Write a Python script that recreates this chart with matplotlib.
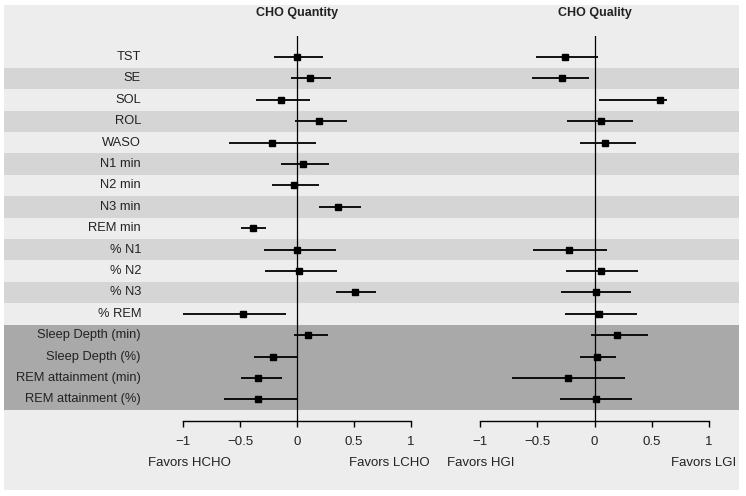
import numpy as np
import matplotlib
matplotlib.use('Agg')
import matplotlib.pyplot as plt
from matplotlib.patches import Rectangle

plt.rcParams['font.family'] = ['Liberation Sans', 'DejaVu Sans']

# ----------------------------------------------------------------------------------------
# data (effect size with 95% CI)
# ----------------------------------------------------------------------------------------
labels = ['TST', 'SE', 'SOL', 'ROL', 'WASO', 'N1 min', 'N2 min', 'N3 min', 'REM min',
          '% N1', '% N2', '% N3', '% REM', 'Sleep Depth (min)', 'Sleep Depth (%)',
          'REM attainment (min)', 'REM attainment (%)']

qty_est = [0.00, 0.11, -0.14, 0.19, -0.22, 0.05, -0.03, 0.36, -0.39,
           0.00, 0.02, 0.51, -0.47, 0.10, -0.21, -0.34, -0.34]
qty_lo = [-0.20, -0.05, -0.36, -0.02, -0.60, -0.14, -0.22, 0.19, -0.49,
          -0.29, -0.28, 0.34, -1.00, -0.03, -0.38, -0.49, -0.64]
qty_hi = [0.23, 0.30, 0.11, 0.44, 0.17, 0.28, 0.19, 0.56, -0.27,
          0.34, 0.35, 0.69, -0.10, 0.27, 0.01, -0.13, 0.00]

nan = np.nan
qual_est = [-0.26, -0.28, 0.57, 0.06, 0.09, nan, nan, nan, nan,
            -0.22, 0.06, 0.01, 0.04, 0.20, 0.02, -0.23, 0.01]
qual_lo = [-0.51, -0.55, 0.04, -0.24, -0.13, nan, nan, nan, nan,
           -0.54, -0.25, -0.29, -0.26, -0.03, -0.13, -0.72, -0.30]
qual_hi = [0.03, -0.05, 0.63, 0.34, 0.36, nan, nan, nan, nan,
           0.11, 0.38, 0.32, 0.37, 0.47, 0.19, 0.27, 0.33]

ticks = [-1, -0.5, 0, 0.5, 1]
tick_labels = ['\u22121', '\u22120.5', '0', '0.5', '1']

# ----------------------------------------------------------------------------------------
# layout (pixel based)
# ----------------------------------------------------------------------------------------
W, H = 746, 496
BG = '#ecedec'
BAND = '#d5d5d5'
DARK = '#a9a9a9'
TXT = '#222222'

fig = plt.figure(figsize=(W / 100, H / 100), dpi=100)
fig.patch.set_facecolor('white')
fig.patches.append(Rectangle((4 / W, 1 - 490 / H), 735 / W, 485 / H,
                             transform=fig.transFigure, facecolor=BG,
                             edgecolor='none', zorder=-10))

n = len(labels)
y = np.arange(n)
top_px, bot_px = 35.6, 420.8
ylim = (17, -1)
bottom = 1 - bot_px / H
height = (bot_px - top_px) / H


def px_ax(x0, x1):
    return fig.add_axes([x0 / W, bottom, (x1 - x0) / W, height])


# background bands
bg = px_ax(4, 739)
bg.set_xlim(0, 1)
bg.set_ylim(*ylim)
for i in range(n):
    if i >= 13:
        bg.axhspan(i - 0.5, i + 0.5, color=DARK, lw=0)
    elif i % 2 == 1:
        bg.axhspan(i - 0.5, i + 0.5, color=BAND, lw=0)
bg.axis('off')


def forest(x0, x1, est, lo, hi, title):
    ax = px_ax(x0, x1)
    ax.patch.set_alpha(0)
    ax.set_xlim(-1, 1)
    ax.set_ylim(*ylim)
    ax.axvline(0, color='black', lw=0.9)
    ax.hlines(y, lo, hi, color='black', lw=1.3)
    ax.plot(est, y, 's', color='black', ms=4.6)
    for s in ['top', 'right', 'left']:
        ax.spines[s].set_visible(False)
    ax.spines['bottom'].set_linewidth(1.0)
    ax.set_yticks([])
    ax.set_xticks(ticks)
    ax.set_xticklabels(tick_labels, fontsize=9.5, color=TXT)
    ax.tick_params(axis='x', direction='out', length=4, width=1, pad=7)
    ax.set_title(title, fontsize=9, fontweight='bold', color=TXT, pad=0,
                 y=1 + 20 / (bot_px - top_px))
    return ax


forest(183, 411, qty_est, qty_lo, qty_hi, 'CHO Quantity')
forest(480, 709, qual_est, qual_lo, qual_hi, 'CHO Quality')

# row labels
for i, lab in enumerate(labels):
    py = 57 + i * 21.4
    fig.text(141 / W, 1 - py / H, lab, ha='right', va='center', fontsize=9.3, color=TXT)

fav_y = 1 - 463 / H
fig.text(148 / W, fav_y, 'Favors HCHO', ha='left', va='center', fontsize=9.5, color=TXT)
fig.text(430 / W, fav_y, 'Favors LCHO', ha='right', va='center', fontsize=9.5, color=TXT)
fig.text(447 / W, fav_y, 'Favors HGI', ha='left', va='center', fontsize=9.5, color=TXT)
fig.text(736 / W, fav_y, 'Favors LGI', ha='right', va='center', fontsize=9.5, color=TXT)

fig.savefig('out.png', dpi=100, facecolor=fig.get_facecolor())
